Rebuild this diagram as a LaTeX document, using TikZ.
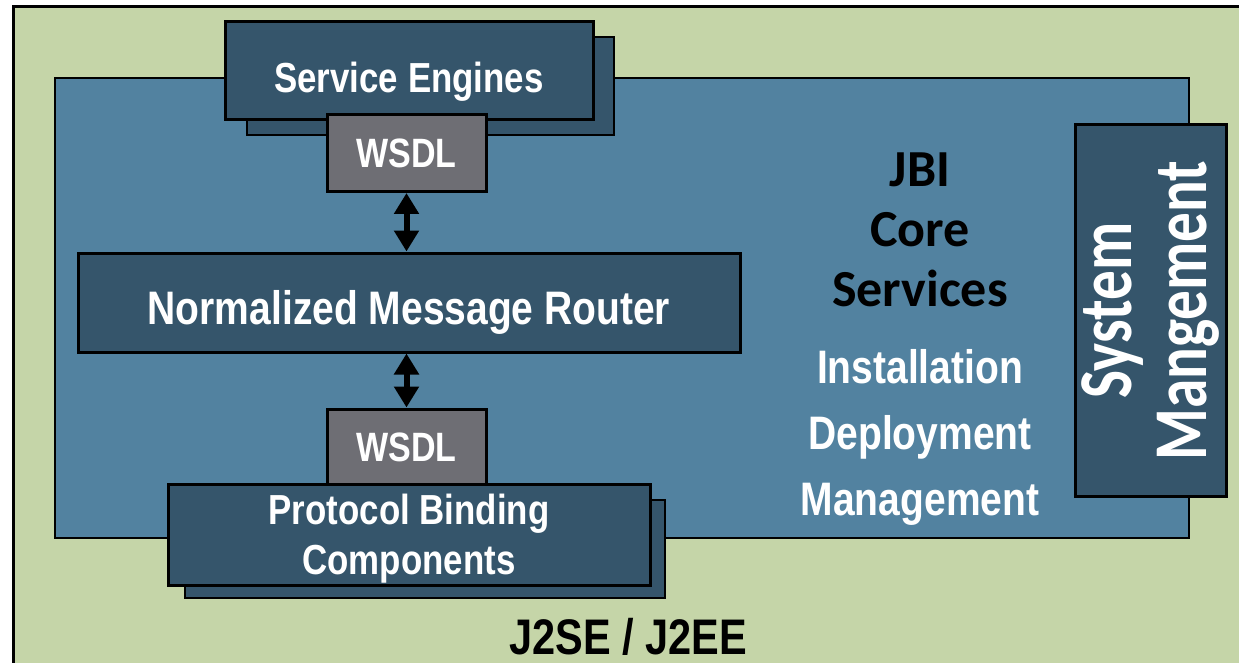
\documentclass[tikz,border=0pt]{standalone}
\usepackage{fontspec}
\usetikzlibrary{arrows.meta}
\newfontfamily\narrowsf[FakeStretch=0.83]{Liberation Sans}
\newfontfamily\calibri{Carlito}
\newfontfamily\calibrinarrow[FakeStretch=0.78]{Carlito}
\definecolor{jbigreen}{RGB}{197,213,168}
\definecolor{jbiblue}{RGB}{82,130,160}
\definecolor{jbidark}{RGB}{53,85,107}
\definecolor{jbigray}{RGB}{110,110,116}
\tikzset{
	darkbox/.style={draw, line width=3pt, fill=jbidark, inner sep=0pt, text=white, font=\narrowsf\bfseries\fontsize{#1}{50}\selectfont},
	shadowbox/.style={draw, line width=2pt, fill=jbidark, inner sep=0pt},
	wsdlbox/.style={draw, line width=3pt, fill=jbigray, inner sep=0pt, text=white, minimum width=159pt, minimum height=77pt, font=\narrowsf\bfseries\fontsize{41}{49}\selectfont},
	sunk/.style={text depth=0pt, text height=44pt},
	dblarrow/.style={{Triangle[width=24pt,length=21pt]}-{Triangle[width=24pt,length=21pt]}, line width=6pt}
}
\begin{document}
\begin{tikzpicture}[x=1pt, y=-1pt]
	\useasboundingbox (0,0) rectangle (1239,663);
	\fill[white] (0,0) rectangle (1239,663);
	\clip (0,0) rectangle (1239,663);
	
	%platform and core
	\draw[line width=3pt, fill=jbigreen] (13,7) rectangle (1280,700);
	\node at (622,308) [draw, line width=1.5pt, fill=jbiblue, inner sep=0pt, minimum width=1134pt, minimum height=460pt] (core) {};
	\node at (628,637) [font=\narrowsf\bfseries\fontsize{50}{56}\selectfont] (platform) {J2SE / J2EE};
	
	%core services
	\node at (920,230) [align=center, font=\calibri\bfseries\fontsize{52}{60}\selectfont] (jbi) {JBI\\Core\\Services};
	\node at (920,437) [align=center, text=white, font=\narrowsf\bfseries\fontsize{47}{66}\selectfont] (tasks) {Installation\\Deployment\\Management};
	\node at (1150.5,310.5) [draw, line width=3pt, fill=jbidark, inner sep=0pt, minimum width=151pt, minimum height=371pt] (sysmgmt) {};
	\node at (sysmgmt.center) [rotate=90, align=center, text=white, font=\calibrinarrow\bfseries\fontsize{76}{75}\selectfont] (sysmgmtlabel) {System\\Mangement};
	
	%service engines
	\node at (430.5,86) [shadowbox, minimum width=367pt, minimum height=98pt] (enginesshadow) {};
	\node at (409,71) [darkbox=42, sunk, minimum width=368pt, minimum height=98pt] (engines) {Service Engines};
	\node at (406.5,153) [wsdlbox] (wsdltop) {WSDL};
	
	%router
	\node at (409,302.5) [darkbox=47, sunk, minimum width=662pt, minimum height=99pt] (nmr) {Normalized Message Router};
	
	%binding components
	\node at (425,549) [shadowbox, minimum width=480pt, minimum height=98pt] (bindingshadow) {};
	\node at (406.5,447.5) [wsdlbox] (wsdlbot) {WSDL};
	\node at (409,534.5) [darkbox=42, align=center, text depth=0pt, minimum width=482pt, minimum height=101pt] (binding) {Protocol Binding\\Components};
	
	\draw[dblarrow] (wsdltop.south) -- (wsdltop.south |- nmr.north);
	\draw[dblarrow] (nmr.south -| wsdlbot.north) -- (wsdlbot.north);
\end{tikzpicture}
\end{document}
